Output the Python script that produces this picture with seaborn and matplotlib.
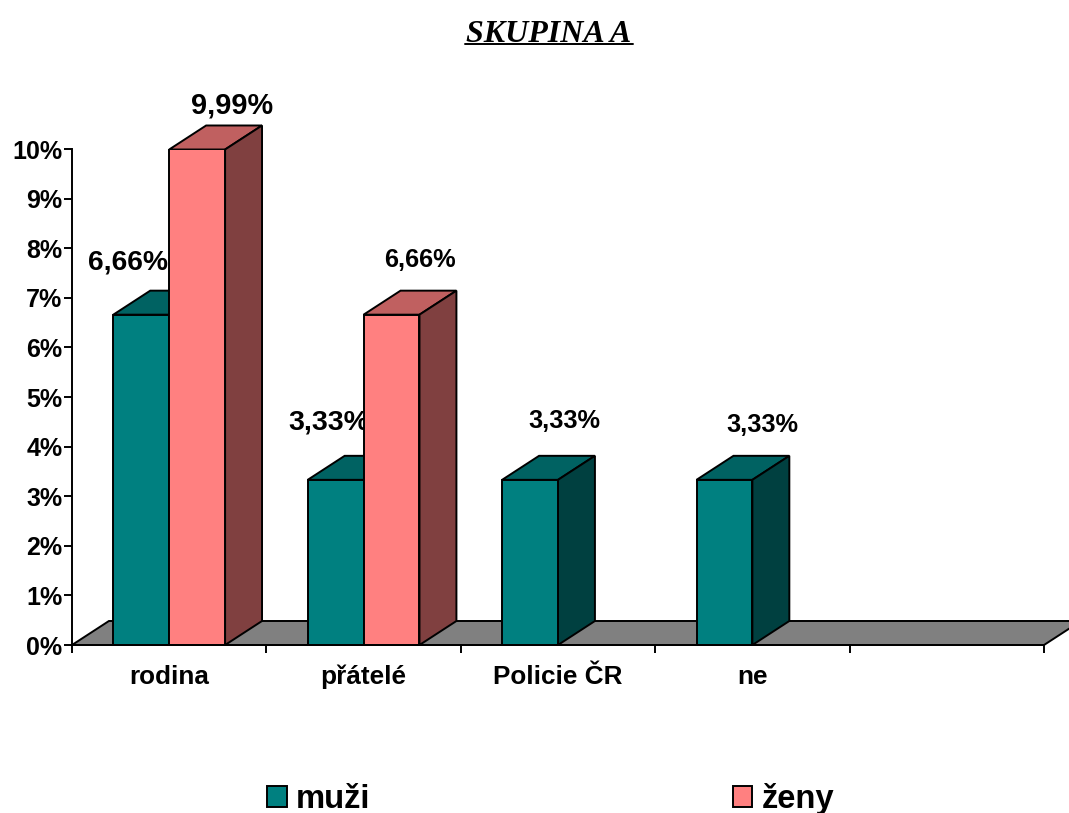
import pandas as pd
import seaborn as sns
import matplotlib.pyplot as plt
from matplotlib.lines import Line2D
from matplotlib.patches import Patch, Polygon

categories = ['rodina', 'přátelé', 'Policie ČR', 'ne', ' ']
muzi = [6.66, 3.33, 3.33, 3.33, None]
zeny = [9.99, 6.66, None, None, None]
series_names = ['muži', 'ženy']
y_ticks = list(range(11))

COLORS = {'muži': '#008080', 'ženy': '#FF8080'}
TOPS = {'#008080': '#006262', '#FF8080': '#C06060'}
SIDES = {'#008080': '#004040', '#FF8080': '#804040'}
DX, DY = 0.19, 0.484  # 3d depth in data units
LW = 1.4
W, H = 1069, 813

sns.set_theme(style='white')
plt.rcParams['font.family'] = ['Liberation Sans', 'DejaVu Sans']

df = pd.DataFrame({'kategorie': categories * 2,
                   'skupina': ['muži'] * 5 + ['ženy'] * 5,
                   'hodnota': muzi + zeny})

fig = plt.figure(figsize=(W / 100, H / 100), dpi=100)
ax = fig.add_axes([72 / W, (H - 645) / H, 972 / W, 496 / H])
sns.barplot(data=df, x='kategorie', y='hodnota', hue='skupina', order=categories,
            hue_order=series_names, palette=COLORS, width=0.575, saturation=1,
            edgecolor='black', linewidth=LW, legend=False, zorder=3, ax=ax)

ax.set_xlim(-0.5, 4.5)
ax.set_ylim(0, 10)

# floor
ax.add_patch(Polygon([(-0.5, 0), (-0.5 + DX, DY), (4.5 + DX, DY), (4.5, 0)], closed=True,
                     facecolor='#808080', edgecolor='black', linewidth=LW, clip_on=False, zorder=1))

# top and side faces of each bar
for bar in list(ax.patches):
    if bar.get_zorder() != 3 or bar.get_height() <= 0:
        continue
    x0, w, h = bar.get_x(), bar.get_width(), bar.get_height()
    c = '#%02X%02X%02X' % tuple(round(v * 255) for v in bar.get_facecolor()[:3])
    ax.add_patch(Polygon([(x0, h), (x0 + DX, h + DY), (x0 + w + DX, h + DY), (x0 + w, h)], closed=True,
                         facecolor=TOPS[c], edgecolor='black', linewidth=LW, clip_on=False, zorder=2))
    ax.add_patch(Polygon([(x0 + w, 0), (x0 + w + DX, DY), (x0 + w + DX, h + DY), (x0 + w, h)], closed=True,
                         facecolor=SIDES[c], edgecolor='black', linewidth=LW, clip_on=False, zorder=2))

sns.despine(ax=ax)
for s in ['left', 'bottom']:
    ax.spines[s].set_linewidth(LW)
    ax.spines[s].set_color('black')
    ax.spines[s].set_zorder(4)

ax.set_xlabel('')
ax.set_ylabel('')
ax.set_yticks(y_ticks)
ax.set_yticklabels([f'{v}%' for v in y_ticks], fontsize=18, fontweight='bold', color='black')
ax.set_xticks([i - 0.5 for i in range(6)])
ax.set_xticklabels([])
ax.set_xticks(range(5), categories, minor=True, fontsize=18.8, fontweight='bold', color='black',
              verticalalignment='baseline')
ax.tick_params(axis='both', which='major', length=6, width=LW, color='black', left=True, bottom=True)
ax.tick_params(axis='y', pad=1)
ax.tick_params(axis='x', which='minor', length=0, pad=28)


def label(txt, px, py, size):
    ax.text(px / W, 1 - py / H, txt, transform=fig.transFigure, fontsize=size,
            fontweight='bold', ha='left', va='center', color='black', zorder=2.5, clip_on=False)


label('9,99%', 191, 105, 20.8)
label('6,66%', 88, 262, 20.3)
label('3,33%', 288, 422, 20.5)
label('6,66%', 384, 260, 18.3)
label('3,33%', 528, 421, 18.3)
label('3,33%', 726, 425, 18.3)

# title, underline drawn by hand
fig.text(549 / W, 1 - 34 / H, 'SKUPINA A', family='Liberation Serif', fontsize=23,
         fontweight='bold', fontstyle='italic', ha='center', va='center', color='black')
fig.add_artist(Line2D([465 / W, 633 / W], [1 - 44 / H, 1 - 44 / H], color='black', linewidth=1.4))

handles = [Patch(facecolor=COLORS[n], edgecolor='black', linewidth=LW) for n in series_names]
fig.legend(handles, series_names, ncol=2, loc='center left', bbox_to_anchor=(241 / W, 1 - 799 / H),
           frameon=False, prop={'weight': 'bold', 'size': 23.6}, handlelength=0.6, handleheight=0.6,
           handletextpad=0.28, columnspacing=11.05, borderpad=0.3, labelcolor='black')

fig.savefig('out.png', dpi=100)
plt.close(fig)
